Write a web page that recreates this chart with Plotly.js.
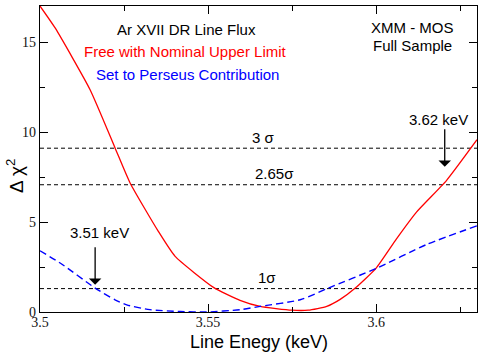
<!DOCTYPE html>
<html>
<head>
<meta charset="utf-8">
<script src="https://cdn.plot.ly/plotly-3.0.1.min.js"></script>
<style>
  html, body { margin: 0; padding: 0; background: #fff; }
  #chart { width: 485px; height: 354px; }
</style>
</head>
<body>
<div id="chart"></div>
<script>
// ---- data ----
let energia_libre = [3.500, 3.5045, 3.5149, 3.5223, 3.5268, 3.5352, 3.5402, 3.5516, 3.5595, 3.5655,
                     3.5749, 3.5798, 3.5853, 3.5893, 3.5938, 3.6000, 3.6060, 3.6120, 3.6209, 3.6300];
let chi_libre = [17.0, 15.78, 12.35, 9.13, 7.17, 4.48, 3.09, 1.37, 0.65, 0.31,
                 0.10, 0.10, 0.31, 0.70, 1.33, 2.44, 4.05, 5.55, 7.30, 9.57];

let energia_perseo = [3.500, 3.506, 3.5164, 3.5223, 3.5258, 3.5327, 3.5417, 3.5496, 3.5595, 3.5655,
                      3.5774, 3.5858, 3.6000, 3.6149, 3.6300];
let chi_perseo = [3.40, 2.72, 1.33, 0.68, 0.40, 0.13, 0.03, 0.00, 0.13, 0.31,
                  0.68, 1.33, 2.42, 3.74, 4.79];

let niveles = [9.1, 7.07, 1.3];
let etiquetas_niveles = ['3 σ', '2.65σ', '1σ'];
let x_etiquetas_niveles = [3.5666, 3.5697, 3.5675];

let energias_marcadas = [3.5164, 3.6204];
let chi_marcadas = [1.52, 8.07];
let etiquetas_marcadas = ['3.51 keV', '3.62 keV'];

let sans = 'Liberation Sans, Arial, Helvetica, sans-serif';
let serif = 'Liberation Serif, Times New Roman, serif';

let trazas = [
  {x: energia_libre, y: chi_libre, type: 'scatter', mode: 'lines',
   line: {color: '#ff0000', width: 1.3, shape: 'spline', smoothing: 0.5}, hoverinfo: 'skip'},
  {x: energia_perseo, y: chi_perseo, type: 'scatter', mode: 'lines',
   line: {color: '#0000ff', width: 1.4, dash: '7px,4px', shape: 'spline', smoothing: 0.6}, hoverinfo: 'skip'}
];

let lineas = niveles.map(v => ({
  type: 'line', xref: 'paper', x0: 0, x1: 1, yref: 'y', y0: v, y1: v,
  line: {color: '#000', width: 1, dash: '4px,3px'}, layer: 'below'
}));

let notas = [];
// sigma labels
niveles.forEach((v, i) => {
  notas.push({x: x_etiquetas_niveles[i], y: v + 0.62, text: etiquetas_niveles[i], showarrow: false,
              font: {family: sans, size: 15, color: '#000'}});
});
// arrows + labels
energias_marcadas.forEach((e, i) => {
  notas.push({x: e, y: chi_marcadas[i], text: '', showarrow: true, ax: 0, ay: -39,
              arrowhead: 1, arrowsize: 1.6, arrowwidth: 1.3, arrowcolor: '#000'});
});
notas.push({x: 3.5178, y: 4.4, text: etiquetas_marcadas[0], showarrow: false, font: {family: sans, size: 15, color: '#000'}});
notas.push({x: 3.6186, y: 10.72, text: etiquetas_marcadas[1], showarrow: false, font: {family: sans, size: 15, color: '#000'}});
// legend-like text
notas.push({x: 3.5437, y: 15.67, text: 'Ar XVII DR Line Flux', showarrow: false, font: {family: sans, size: 15, color: '#000'}});
notas.push({x: 3.5434, y: 14.45, text: 'Free with Nominal Upper Limit', showarrow: false, font: {family: sans, size: 15, color: '#ff0000'}});
notas.push({x: 3.5440, y: 13.17, text: 'Set to Perseus Contribution', showarrow: false, font: {family: sans, size: 15, color: '#0000ff'}});
notas.push({x: 3.6109, y: 15.78, text: 'XMM - MOS', showarrow: false, font: {family: sans, size: 15, color: '#000'}});
notas.push({x: 3.6109, y: 14.83, text: 'Full Sample', showarrow: false, font: {family: sans, size: 15, color: '#000'}});
// axis titles
notas.push({xref: 'paper', x: -0.057, xanchor: 'center', y: 7.56, yanchor: 'middle', text: 'Δ χ<sup>2</sup>',
            textangle: -90, showarrow: false, font: {family: sans, size: 19, color: '#000'}});
notas.push({xref: 'paper', x: 0.5, xanchor: 'center', yref: 'paper', y: -0.097, yanchor: 'middle',
            text: 'Line Enegy (keV)', showarrow: false, font: {family: sans, size: 18, color: '#000'}});

let ejeComun = {
  showgrid: false, zeroline: false, showline: true, linecolor: '#000', linewidth: 1.3,
  mirror: 'allticks', ticks: 'inside', ticklen: 8, tickwidth: 1, tickcolor: '#000',
  tickfont: {family: serif, size: 14, color: '#111'}
};

let layout = {
  width: 485, height: 354,
  margin: {l: 40, r: 8, t: 6, b: 42},
  paper_bgcolor: '#fff', plot_bgcolor: '#fff',
  showlegend: false,
  xaxis: Object.assign({}, ejeComun, {
    range: [3.5, 3.63], tickvals: [3.5, 3.55, 3.6], ticktext: ['3.5', '3.55', '3.6'],
    minor: {tickvals: [3.525, 3.575, 3.625], ticks: 'inside', ticklen: 5, tickcolor: '#000'},
    ticklabelstandoff: -3
  }),
  yaxis: Object.assign({}, ejeComun, {
    range: [0, 17], tickvals: [0, 5, 10, 15],
    minor: {dtick: 2.5, ticks: 'inside', ticklen: 5, tickcolor: '#000'}
  }),
  shapes: lineas,
  annotations: notas
};

Plotly.newPlot('chart', trazas, layout, {displayModeBar: false, staticPlot: true});
</script>
</body>
</html>
